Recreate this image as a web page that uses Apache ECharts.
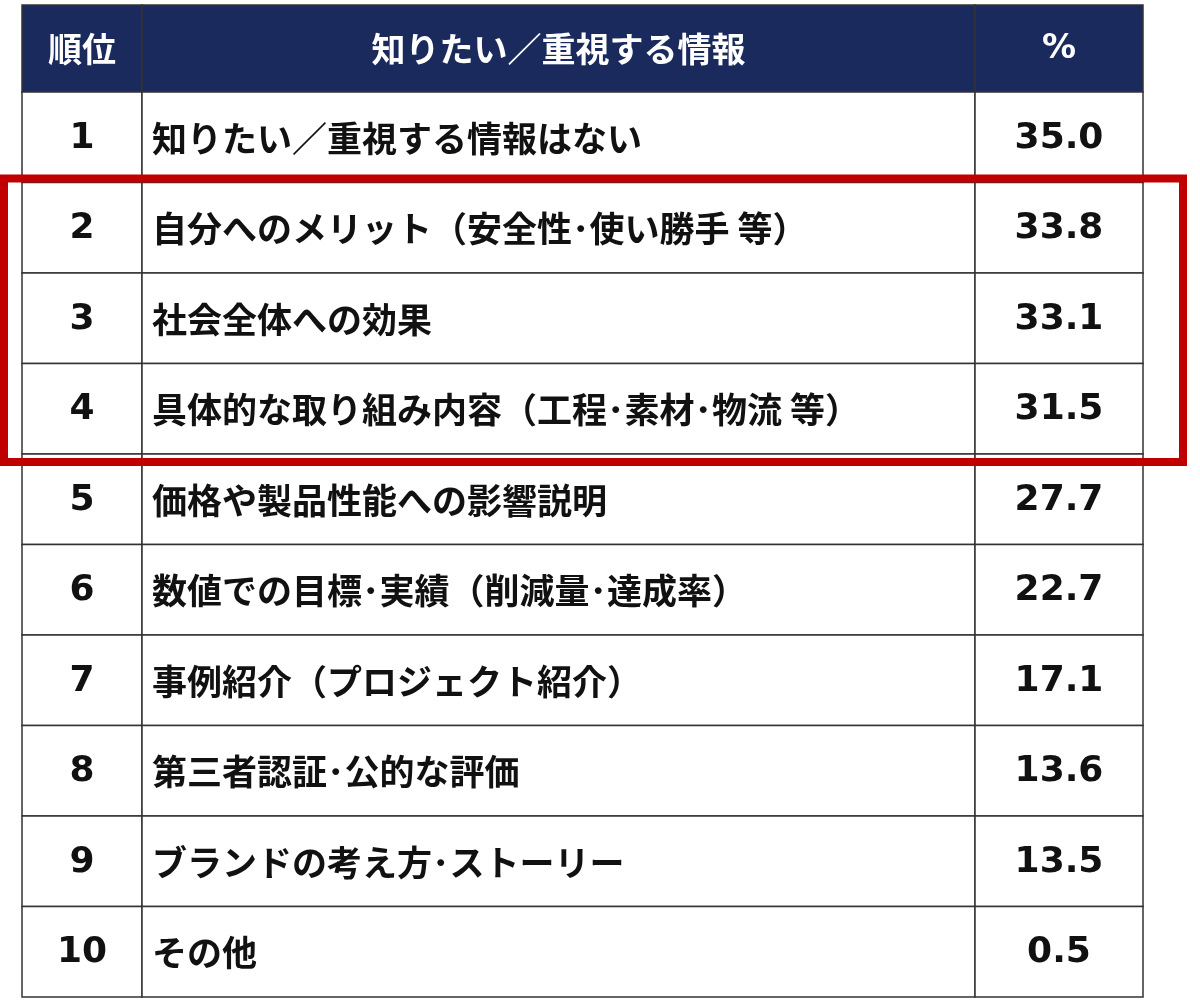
<!DOCTYPE html>
<html><head><meta charset="utf-8">
<script src="https://cdn.jsdelivr.net/npm/echarts@6/dist/echarts.min.js"></script>
<style>html,body{margin:0;background:#fff}#c{width:1200px;height:1000px}</style>
</head><body><div id="c"></div>
<script>
const headers = ['順位', '知りたい／重視する情報', '%'];
const ranks = [1,2,3,4,5,6,7,8,9,10];
const items = ['知りたい／重視する情報はない','自分へのメリット（安全性･使い勝手 等）','社会全体への効果','具体的な取り組み内容（工程･素材･物流 等）','価格や製品性能への影響説明','数値での目標･実績（削減量･達成率）','事例紹介（プロジェクト紹介）','第三者認証･公的な評価','ブランドの考え方･ストーリー','その他'];
const values = [35.0,33.8,33.1,31.5,27.7,22.7,17.1,13.6,13.5,0.5];
const highlight = [2,4];

const cols = [22,142,975,1143];
const headTop = 5, headBot = 92, rowH = 90.5;
const font = '"Noto Sans CJK JP", sans-serif';
const numFont = '"DejaVu Sans", "Noto Sans CJK JP", sans-serif';

function rowY(i){ return i===0 ? [headTop, headBot] : [headBot+(i-1)*rowH, headBot+i*rowH]; }

const data = [0].concat(ranks);
const chart = echarts.init(document.getElementById('c'));
chart.setOption({
  animation:false,
  grid:{left:0,right:0,top:0,bottom:0},
  xAxis:{type:'value',min:0,max:1200,show:false},
  yAxis:{type:'value',min:0,max:1000,inverse:true,show:false},
  series:[{
    type:'custom',
    data: data.map((r,i)=>[i]),
    renderItem(params, api){
      const i = api.value(0);
      const [y0,y1] = rowY(i);
      const children = [];
      const isHead = i===0;
      for(let c=0;c<3;c++){
        const p0 = api.coord([cols[c],y0]), p1 = api.coord([cols[c+1],y1]);
        children.push({type:'rect',shape:{x:p0[0],y:p0[1],width:p1[0]-p0[0],height:p1[1]-p0[1]},
          style:{fill:isHead?'#1b2a5c':'#fff',stroke:'#333',lineWidth:1.5}});
        let txt, align='center', tx=(p0[0]+p1[0])/2, f;
        if(isHead){ txt=headers[c]; f='bold 34px '+(c===2?numFont:font); }
        else if(c===1){ txt=items[i-1]; align='left'; tx=p0[0]+10; f='bold 35px '+font; }
        else { txt=c===0?String(ranks[i-1]):values[i-1].toFixed(1); f='bold 36px '+numFont; }
        children.push({type:'text',style:{x:tx,y:(p0[1]+p1[1])/2+1,text:txt,align:align,verticalAlign:'middle',
          fill:isHead?'#fff':'#111',font:f}});
      }
      return {type:'group',children};
    }
  },{
    type:'custom',
    data:[[highlight[0],highlight[1]]],
    z:10,
    renderItem(params, api){
      const a = rowY(api.value(0))[0], b = rowY(api.value(1))[1];
      const p0 = api.coord([4,a-4]), p1 = api.coord([1183,b+8]);
      return {type:'rect',shape:{x:p0[0],y:p0[1],width:p1[0]-p0[0],height:p1[1]-p0[1]},
        style:{fill:'none',stroke:'#c00000',lineWidth:8}};
    }
  }]
});
</script></body></html>
